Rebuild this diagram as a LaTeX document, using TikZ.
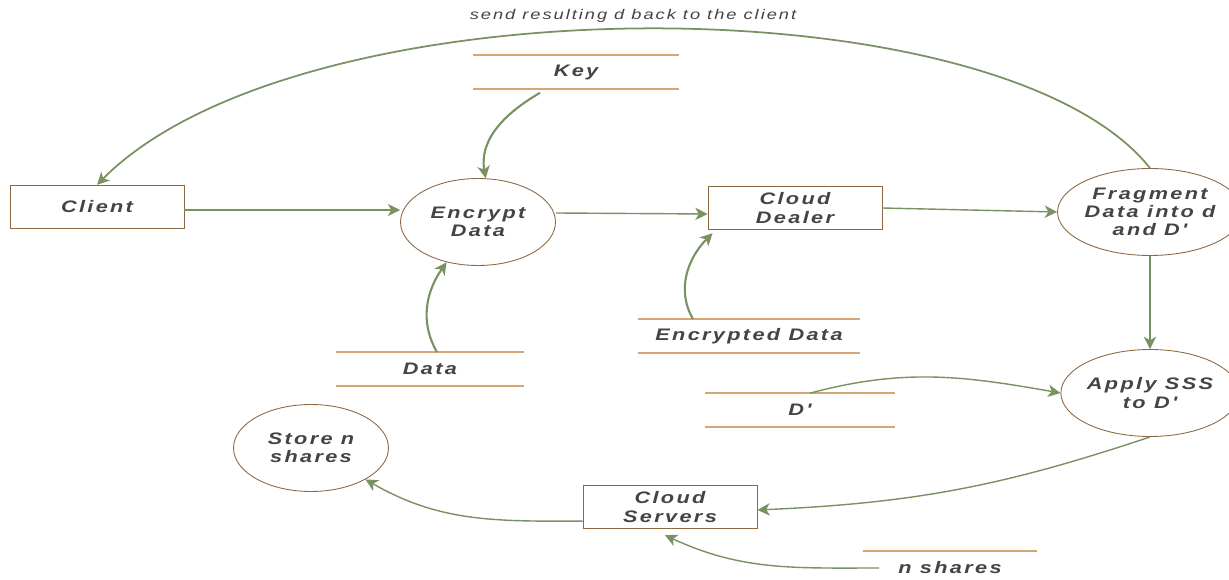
\documentclass[tikz,border=0pt]{standalone}
\usepackage{fontspec}
\setmainfont{Liberation Sans}
\newfontfamily\dfdfont[FakeStretch=1.3,LetterSpace=14]{Liberation Sans}
\usetikzlibrary{arrows.meta,shapes,positioning}

\definecolor{flowgreen}{RGB}{122,145,98}
\definecolor{boxbrown}{RGB}{140,104,68}
\definecolor{storetan}{RGB}{212,166,118}
\definecolor{txtgray}{RGB}{68,68,68}

\begin{document}
\begin{tikzpicture}[>={Stealth[length=7pt,width=7pt,inset=2pt]},x=0.02cm,y=-0.02cm,
  every node/.style={text=txtgray,align=center,font=\dfdfont\bfseries\itshape\fontsize{9.5}{10.3}\selectfont},
  entity/.style={draw=boxbrown,line width=0.5pt,minimum width=3.48cm,minimum height=0.87cm},
  process/.style={ellipse,draw=boxbrown,line width=0.5pt,minimum width=3.1cm,minimum height=1.74cm,inner sep=0pt},
  store/.style={minimum height=0.66cm},
  flow/.style={->,draw=flowgreen,line width=0.8pt}]
  \useasboundingbox (0,0) rectangle (1229,580);

  % entities and processes
  \node[entity] (client) at (97,207) {Client};
  \node[process] (encrypt) at (478,222) {Encrypt\\Data};
  \node[entity] (dealer) at (795,208) {Cloud\\Dealer};
  \node[process] (fragment) at (1150,212) {Fragment\\Data into d\\and D'};
  \node[process] (applysss) at (1150,393) {Apply SSS\\to D'};
  \node[process] (storeshares) at (311,448) {Store n\\shares};
  \node[entity] (servers) at (670,507) {Cloud\\Servers};

  % data stores
  \node[store,minimum width=4.12cm] (key) at (576,72) {Key};
  \node[store,minimum width=3.74cm] (data) at (430,369) {Data};
  \node[store,minimum width=4.44cm] (encdata) at (749,336) {Encrypted Data};
  \node[store,minimum width=3.8cm] (dprime) at (800,410) {D'};
  \node[store,minimum width=3.46cm] (nshares) at (950,568) {n shares};
  \foreach \s in {key,data,encdata,dprime}
    \draw[storetan,line width=0.9pt] (\s.north west) -- (\s.north east) (\s.south west) -- (\s.south east);
  \draw[storetan,line width=0.9pt] (nshares.north west) -- (nshares.north east);

  \node[font=\dfdfont\itshape\fontsize{8}{9}\selectfont] (sendlbl) at (633,16) {send resulting d back to the client};

  % flows
  \draw[flow] ([yshift=-0.06cm]client.east) -- ([yshift=-0.06cm]client.east -| encrypt.west);
  \draw[flow] ([yshift=-0.1cm]encrypt.east |- dealer.west) -- ([yshift=-0.12cm]dealer.west);
  \draw[flow] (dealer.east) -- (fragment.west);
  \draw[flow,line width=1.4pt] (fragment.south) -- (applysss.north);
  \draw[flow,line width=1pt] (fragment.north) .. controls (1000,-20) and (300,-20) .. (client.north);
  \draw[flow,line width=1.2pt] ([xshift=-0.72cm,yshift=-0.08cm]key.south) to[out=-150,in=100] (encrypt.80);
  \draw[flow,line width=1.2pt] ([xshift=0.14cm]data.north) to[out=120,in=-125] (encrypt.-128);
  \draw[flow,line width=1.2pt] ([xshift=-1.12cm]encdata.north) to[out=120,in=-135] ([xshift=0.1cm,yshift=-0.06cm]dealer.south west);
  \draw[flow] ([xshift=0.2cm]dprime.north) to[out=15,in=170] (applysss.west);
  \draw[flow] (applysss.south) to[bend left=8] ([yshift=-0.06cm]servers.east);
  \draw[flow] ([yshift=0.16cm]servers.south west) to[out=180,in=-30] (storeshares.-30);
  \draw[flow] ([xshift=0.32cm]nshares.west) to[out=180,in=-25] ([xshift=-0.1cm,yshift=-0.12cm]servers.south);
\end{tikzpicture}
\end{document}
